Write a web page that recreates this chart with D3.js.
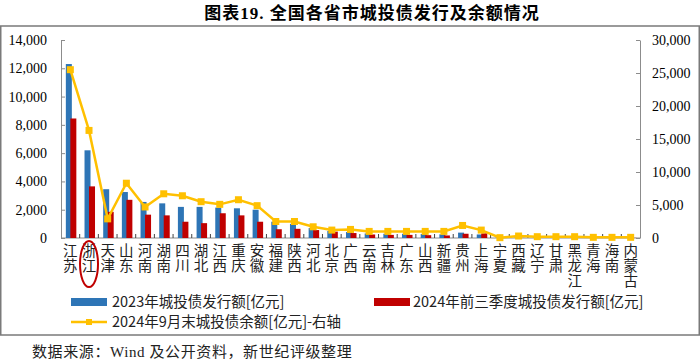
<!DOCTYPE html>
<html lang='zh'>
<head>
	<meta charset='utf-8'>
	<script type='text/javascript' src='https://d3js.org/d3.v7.min.js'></script>
	<style type='text/css'>
		body{
			margin:0;
			background:#fff;
		}
		.axis text{
			font-family:'Liberation Serif', serif;
			font-size:14px;
			fill:#000;
		}
		.axis path, .axis line{
			stroke:#8c8c8c;
		}
		.cat-label{
			font-family:'Noto Sans CJK SC', sans-serif;
			font-size:14.5px;
			fill:#222;
		}
		.legend text{
			font-family:'Noto Sans CJK SC', sans-serif;
			font-size:14.5px;
			fill:#222;
		}
	</style>
</head>
<body>
	<div id='chart'></div>

	<script type='text/javascript'>
		//provinces (x categories)
		var provinces = ['江苏','浙江','天津','山东','河南','湖南','四川','湖北','江西','重庆','安徽','福建','陕西','河北','北京','广西',
						 '云南','吉林','广东','山西','新疆','贵州','上海','宁夏','西藏','辽宁','甘肃','黑龙江','青海','海南','内蒙古'];

		//2023 issuance (left axis)
		var issue2023 = [12300,6200,3450,3250,2550,2450,2200,2200,2150,2100,2000,1150,1000,700,500,420,
						 320,300,300,280,260,380,250,30,20,40,40,30,20,20,20];

		//2024 Q1-Q3 issuance (left axis)
		var issue2024 = [8450,3650,1850,2700,1650,1600,1150,1050,1750,1600,1150,620,650,560,450,350,
						 250,220,220,200,180,300,330,20,10,30,30,20,10,10,10];

		//balance at end of Sep 2024 (right axis)
		var balance = [25500,16300,2900,8300,4700,6700,6400,5500,5100,5800,4900,2500,2500,1700,1200,1300,
					   1000,1000,1000,1000,1000,1900,1200,50,300,200,200,200,100,100,100];

		var leftTicks = [0,2000,4000,6000,8000,10000,12000,14000];
		var rightTicks = [0,5000,10000,15000,20000,25000,30000];

		var seriesNames = ['2023年城投债发行额[亿元]', '2024年前三季度城投债发行额[亿元]', '2024年9月末城投债余额[亿元]-右轴'];

		var width = 700,
			height = 361;

		var plot = {left:61, right:640, top:40, bottom:238};

		var svg = d3.select('#chart')
			.append('svg')
			.attr('width', width)
			.attr('height', height);

		//frame
		svg.append('rect')
			.attr('x', 0.75)
			.attr('y', 26)
			.attr('width', width - 1.5)
			.attr('height', 309)
			.style('fill', 'none')
			.style('stroke', '#7a7a7a')
			.style('stroke-width', 1.5);

		//title
		svg.append('text')
			.attr('x', 372)
			.attr('y', 19)
			.attr('text-anchor', 'middle')
			.style('font-family', "'Liberation Serif', 'Noto Sans CJK SC', serif")
			.style('font-weight', 'bold')
			.style('font-size', '17px')
			.style('letter-spacing', '1px')
			.text('图表19. 全国各省市城投债发行及余额情况');

		//scales
		var x = d3.scaleBand()
			.domain(provinces)
			.range([plot.left, plot.right]);

		var yLeft = d3.scaleLinear()
			.domain([0, 14000])
			.range([plot.bottom, plot.top]);

		var yRight = d3.scaleLinear()
			.domain([0, 30000])
			.range([plot.bottom, plot.top]);

		var fmt = d3.format(',');

		//axes
		svg.append('g')
			.attr('class', 'axis')
			.attr('transform', 'translate(' + plot.left + ',0)')
			.call(d3.axisLeft(yLeft).tickValues(leftTicks).tickFormat(fmt).tickSizeInner(-4).tickSizeOuter(0).tickPadding(14));

		svg.append('g')
			.attr('class', 'axis')
			.attr('transform', 'translate(' + plot.right + ',0)')
			.call(d3.axisRight(yRight).tickValues(rightTicks).tickFormat(fmt).tickSizeInner(-4).tickSizeOuter(0).tickPadding(12));

		//x axis with ticks between categories
		var xAxis = svg.append('g').attr('class', 'axis');
		xAxis.append('line')
			.attr('x1', plot.left).attr('x2', plot.right)
			.attr('y1', plot.bottom).attr('y2', plot.bottom);
		xAxis.selectAll('.xtick')
			.data(provinces.slice(1))
			.enter()
			.append('line')
			.attr('class', 'xtick')
			.attr('x1', function(d){ return x(d); })
			.attr('x2', function(d){ return x(d); })
			.attr('y1', plot.bottom)
			.attr('y2', plot.bottom - 4)
			.style('stroke', '#444');

		//category labels, one character per row
		var labels = svg.selectAll('.cat-label')
			.data(provinces)
			.enter()
			.append('text')
			.attr('class', 'cat-label')
			.attr('text-anchor', 'middle');
		labels.selectAll('tspan')
			.data(function(d){ return d.split('').map(function(c){ return {c:c, p:d}; }); })
			.enter()
			.append('tspan')
			.attr('x', function(d){ return x(d.p) + x.bandwidth() / 2; })
			.attr('y', function(d, i){ return 256 + i * 15; })
			.text(function(d){ return d.c; });

		//bars
		svg.selectAll('.bar2023')
			.data(issue2023)
			.enter()
			.append('rect')
			.attr('class', 'bar2023')
			.attr('x', function(d, i){ return x(provinces[i]) + x.bandwidth() / 2 - 4.5; })
			.attr('y', function(d){ return yLeft(d); })
			.attr('width', 6)
			.attr('height', function(d){ return plot.bottom - yLeft(d); })
			.style('fill', '#2e75b6');

		svg.selectAll('.bar2024')
			.data(issue2024)
			.enter()
			.append('rect')
			.attr('class', 'bar2024')
			.attr('x', function(d, i){ return x(provinces[i]) + x.bandwidth() / 2; })
			.attr('y', function(d){ return yLeft(d); })
			.attr('width', 6)
			.attr('height', function(d){ return plot.bottom - yLeft(d); })
			.style('fill', '#c00000');

		//balance line
		var line = d3.line()
			.x(function(d, i){ return x(provinces[i]) + x.bandwidth() / 2; })
			.y(function(d){ return yRight(d); });

		svg.append('path')
			.datum(balance)
			.attr('d', line)
			.style('fill', 'none')
			.style('stroke', '#ffc000')
			.style('stroke-width', 2.5);

		svg.selectAll('.marker')
			.data(balance)
			.enter()
			.append('rect')
			.attr('class', 'marker')
			.attr('x', function(d, i){ return x(provinces[i]) + x.bandwidth() / 2 - 3.5; })
			.attr('y', function(d){ return yRight(d) - 3.5; })
			.attr('width', 7)
			.attr('height', 7)
			.style('fill', '#ffc000');

		//highlight ellipse round Zhejiang label
		svg.append('ellipse')
			.attr('cx', x('浙江') + x.bandwidth() / 2)
			.attr('cy', 264)
			.attr('rx', 9)
			.attr('ry', 23)
			.style('fill', 'none')
			.style('stroke', '#c00000')
			.style('stroke-width', 2);

		//legend
		var legend = svg.append('g').attr('class', 'legend');
		legend.append('rect')
			.attr('x', 71).attr('y', 298).attr('width', 36).attr('height', 8)
			.style('fill', '#2e75b6');
		legend.append('text')
			.attr('x', 112).attr('y', 307)
			.text(seriesNames[0]);
		legend.append('rect')
			.attr('x', 374).attr('y', 298).attr('width', 36).attr('height', 8)
			.style('fill', '#c00000');
		legend.append('text')
			.attr('x', 413).attr('y', 307)
			.text(seriesNames[1]);
		legend.append('line')
			.attr('x1', 71).attr('x2', 107).attr('y1', 322).attr('y2', 322)
			.style('stroke', '#ffc000').style('stroke-width', 2.5);
		legend.append('rect')
			.attr('x', 86).attr('y', 319).attr('width', 6).attr('height', 6)
			.style('fill', '#ffc000');
		legend.append('text')
			.attr('x', 112).attr('y', 327)
			.text(seriesNames[2]);

		//source note
		svg.append('text')
			.attr('x', 32)
			.attr('y', 357)
			.style('font-family', "'Liberation Serif', 'Noto Sans CJK SC', serif")
			.style('font-size', '15px')
			.style('letter-spacing', '0.6px')
			.style('fill', '#222')
			.text('数据来源：Wind 及公开资料，新世纪评级整理');
	</script>
</body>
</html>
